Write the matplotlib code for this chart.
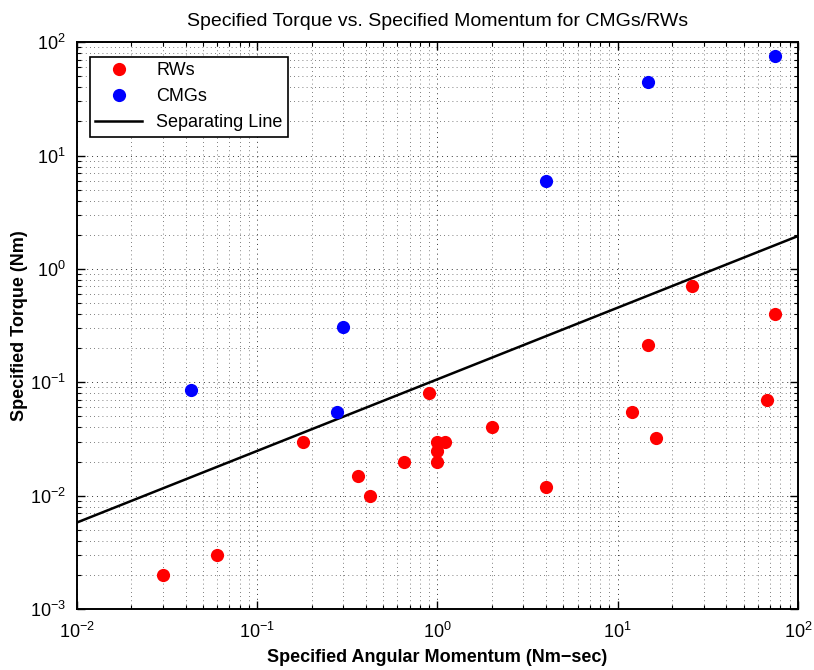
import numpy as np
import matplotlib
matplotlib.use('Agg')
import matplotlib.pyplot as plt

plt.rcParams['font.family'] = ['Liberation Sans', 'DejaVu Sans']

# reaction wheels: momentum (Nm-sec), torque (Nm)
rw_h = [0.03, 0.06, 0.18, 0.36, 0.42, 0.65, 0.9, 1.0, 1.0, 1.0, 1.1,
        2.0, 4.0, 12.0, 16.3, 67.0, 25.8, 74.5, 14.7]
rw_t = [0.002, 0.003, 0.03, 0.015, 0.01, 0.02, 0.08, 0.03, 0.025, 0.02, 0.03,
        0.04, 0.012, 0.055, 0.032, 0.07, 0.7, 0.4, 0.213]

# control moment gyros
cmg_h = [0.0428, 0.277, 0.3, 4.0, 14.7, 74.5]
cmg_t = [0.085, 0.055, 0.31, 6.0, 45.0, 75.0]

# separating line end points
line_h = [0.01, 100.0]
line_t = [0.0058, 1.95]

fig = plt.figure(figsize=(8.14, 6.7), dpi=100)
ax = fig.add_axes([0.0946, 0.091, 0.8857, 0.846])

ax.plot(rw_h, rw_t, 'o', color='#ff0000', markersize=9.5, markeredgewidth=0, label='RWs', zorder=3)
ax.plot(cmg_h, cmg_t, 'o', color='#0000ff', markersize=9.5, markeredgewidth=0, label='CMGs', zorder=3)
ax.plot(line_h, line_t, '-', color='black', linewidth=1.8, label='Separating Line', zorder=2)

ax.set_xscale('log')
ax.set_yscale('log')
ax.set_xlim(1e-2, 1e2)
ax.set_ylim(1e-3, 1e2)

ax.grid(True, which='major', linestyle=(0, (1, 4)), color='#333333', linewidth=0.7)
ax.grid(True, which='minor', linestyle=(0, (1, 4)), color='#555555', linewidth=0.6)

ax.tick_params(which='both', direction='in', top=True, right=True, labelsize=13)
ax.tick_params(axis='x', which='major', pad=9)
ax.tick_params(axis='y', which='major', pad=8)
ax.tick_params(which='major', length=6, width=1)
ax.tick_params(which='minor', length=3, width=0.8)
for s in ax.spines.values():
    s.set_linewidth(1.4)

ax.set_title('Specified Torque vs. Specified Momentum for CMGs/RWs', fontsize=14, pad=12)
ax.set_xlabel('Specified Angular Momentum (Nm\u2212sec)', fontsize=13, fontweight='bold', labelpad=5)
ax.set_ylabel('Specified Torque (Nm)', fontsize=13, fontweight='bold', labelpad=1)

leg = ax.legend(loc='upper left', fontsize=13, frameon=True, fancybox=False,
                edgecolor='black', framealpha=1, borderpad=0.3, handlelength=2.6,
                bbox_to_anchor=(0.005, 0.99))
leg.get_frame().set_linewidth(1.2)

fig.savefig('out.png', dpi=100)
